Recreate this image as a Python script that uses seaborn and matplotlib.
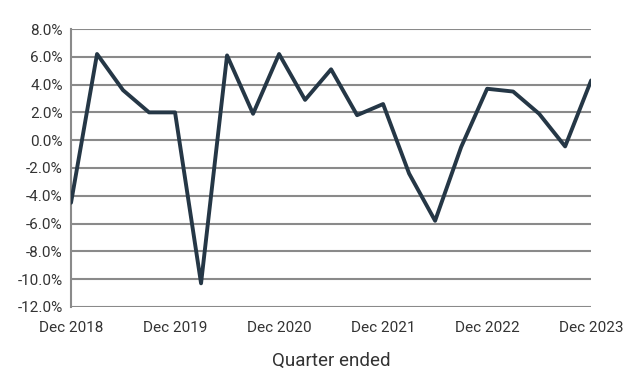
import pandas as pd
import matplotlib.pyplot as plt
import seaborn as sns

# Datos (trimestres Dec 2018 - Dec 2023)
quarters = ["Dec 2018", "Mar 2019", "Jun 2019", "Sep 2019", "Dec 2019",
            "Mar 2020", "Jun 2020", "Sep 2020", "Dec 2020",
            "Mar 2021", "Jun 2021", "Sep 2021", "Dec 2021",
            "Mar 2022", "Jun 2022", "Sep 2022", "Dec 2022",
            "Mar 2023", "Jun 2023", "Sep 2023", "Dec 2023"]
growth = [-4.5, 6.2, 3.6, 2.0, 2.0,
          -10.3, 6.1, 1.9, 6.2,
          2.9, 5.1, 1.8, 2.6,
          -2.4, -5.8, -0.5, 3.7,
          3.5, 1.9, -0.45, 4.3]
tick_labels = ["Dec 2018", "Dec 2019", "Dec 2020", "Dec 2021", "Dec 2022", "Dec 2023"]
y_ticks = [-12, -10, -8, -6, -4, -2, 0, 2, 4, 6, 8]

df = pd.DataFrame({"quarter": quarters, "growth": growth})
df["pos"] = range(len(df))

sns.set_style("white")
plt.rcParams["font.family"] = ["Roboto", "DejaVu Sans"]

fig = plt.figure(figsize=(6.37, 3.92), dpi=100)
ax = fig.add_axes([0.1115, 0.217, 0.8165, 0.709])

for v in y_ticks:
    ax.axhline(v, color="#8a8a8a", linewidth=1.5, zorder=1)

sns.lineplot(x="pos", y="growth", data=df, ax=ax, color="#253746",
             linewidth=2.8, zorder=3)

ax.set_xlim(0, len(df) - 1)
ax.set_ylim(-12, 8)
ax.set_yticks(y_ticks)
ax.set_yticklabels([f"{v:.1f}%" for v in y_ticks])
ax.set_xticks([df.loc[df.quarter == t, "pos"].iloc[0] for t in tick_labels])
ax.set_xticklabels(tick_labels)
ax.tick_params(axis="both", length=0, labelsize=11, colors="#333333")
ax.tick_params(axis="x", pad=10)
ax.tick_params(axis="y", pad=6)

for s in ["top", "right", "bottom"]:
    ax.spines[s].set_visible(False)
ax.spines["left"].set_color("#8a8a8a")
ax.spines["left"].set_linewidth(1.5)

ax.set_xlabel("Quarter ended", fontsize=13.5, color="#333333", labelpad=12)
ax.set_ylabel("")

plt.savefig("out.png", dpi=100)
